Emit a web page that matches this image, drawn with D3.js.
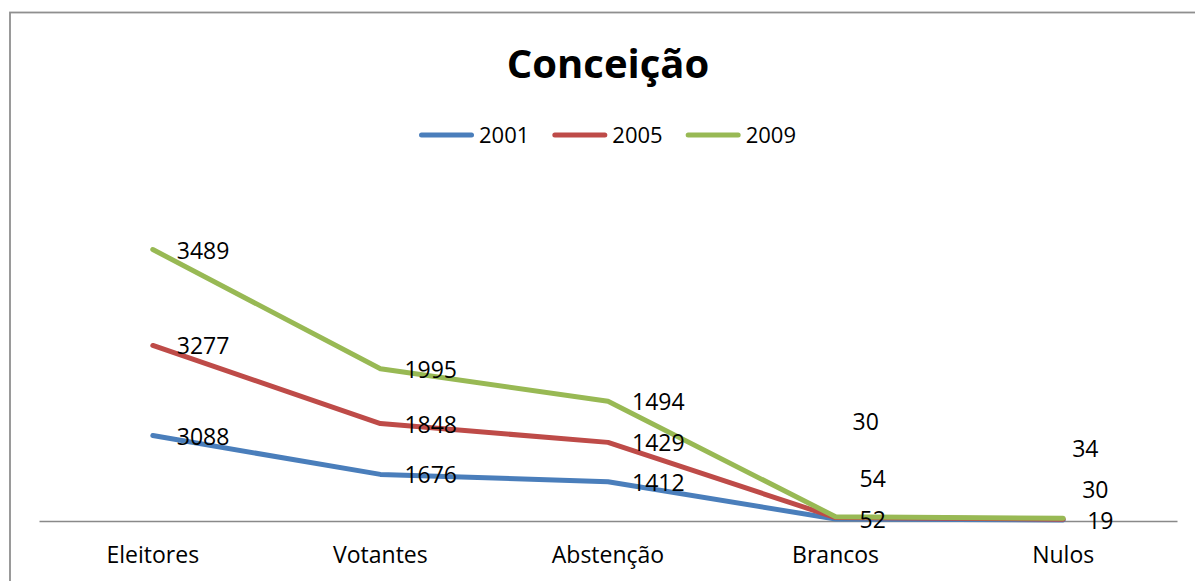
<!DOCTYPE html>
<html>
<head>
<meta charset="utf-8">
<script src="https://cdn.jsdelivr.net/npm/d3@7"></script>
<style>
  body { margin: 0; background: #fff; }
  text { font-family: "Open Sans", "Noto Sans", sans-serif; fill: #000; }
</style>
</head>
<body>
<svg id="chart" width="1195" height="581"></svg>
<script>
// data
var categories = ["Eleitores", "Votantes", "Abstenção", "Brancos", "Nulos"];
var years = ["2001", "2005", "2009"];
var values2001 = [3088, 1676, 1412, 52, 19];
var values2005 = [3277, 1848, 1429, 54, 30];
var values2009 = [3489, 1995, 1494, 30, 34];
var colors = ["#4a7ebb", "#be4b48", "#98b954"];
// manually moved data labels (offset from default spot, px)
var labelDx2001 = [0, 0, 0, 0, 0], labelDy2001 = [0, 0, 0, 0, 0];
var labelDx2005 = [0, 0, 0, 0, -5], labelDy2005 = [0, 0, 0, -40, -30];
var labelDx2009 = [0, 0, 0, -7, -15], labelDy2009 = [0, 0, 0, -96, -70];

var seriesValues = [values2001, values2005, values2009];
var labelDx = [labelDx2001, labelDx2005, labelDx2009];
var labelDy = [labelDy2001, labelDy2005, labelDy2009];

var svg = d3.select("#chart");

// chart border (right/bottom edges are cut off)
svg.append("rect")
  .attr("x", 10).attr("y", 12.5)
  .attr("width", 1300).attr("height", 700)
  .attr("fill", "none")
  .attr("stroke", "#8f8f8f")
  .attr("stroke-width", 1.8);

// table for stacking
var table = categories.map(function(c, i){
  var row = { cat: c };
  years.forEach(function(y, j){ row[y] = seriesValues[j][i]; });
  return row;
});
var stacked = d3.stack().keys(years)(table);

var x = d3.scaleBand().domain(categories).range([39, 1177]);
var y = d3.scaleLinear().domain([0, 12000]).range([520.5, 190.5]);
function cx(c){ return x(c) + x.bandwidth() / 2; }

// title
svg.append("text")
  .attr("x", 608).attr("y", 78)
  .attr("text-anchor", "middle")
  .style("font-size", "40px")
  .style("font-weight", "bold")
  .text("Conceição");

// legend
var legend = svg.append("g").attr("transform", "translate(0,135)");
var lx = 419;
years.forEach(function(yr, j){
  legend.append("line")
    .attr("x1", lx + 2.5).attr("x2", lx + 52.5)
    .attr("y1", 0).attr("y2", 0)
    .attr("stroke", colors[j])
    .attr("stroke-width", 5)
    .attr("stroke-linecap", "round");
  var t = legend.append("text")
    .attr("x", lx + 60).attr("y", 8)
    .style("font-size", "22px")
    .text(yr);
  lx += 60 + t.node().getComputedTextLength() + 23;
});

// x axis
var axis = svg.append("g")
  .attr("transform", "translate(0,521)")
  .call(d3.axisBottom(x).tickSize(0).tickPadding(0).tickFormat(""));
axis.select(".domain").attr("stroke", "#898989").attr("stroke-width", 1.4);
axis.selectAll(".tick").remove();

svg.selectAll(".catLabel")
  .data(categories)
  .enter()
  .append("text")
  .attr("class", "catLabel")
  .attr("x", function(d){ return cx(d); })
  .attr("y", 563)
  .attr("text-anchor", "middle")
  .style("font-size", "23px")
  .text(function(d){ return d; });

// lines
var line = d3.line()
  .x(function(d){ return cx(d.data.cat); })
  .y(function(d){ return y(d[1]); });

svg.selectAll(".series")
  .data(stacked)
  .enter()
  .append("path")
  .attr("class", "series")
  .attr("d", line)
  .attr("fill", "none")
  .attr("stroke", function(d, i){ return colors[i]; })
  .attr("stroke-width", 5)
  .attr("stroke-linejoin", "round")
  .attr("stroke-linecap", "round");

// data labels
stacked.forEach(function(s, j){
  svg.selectAll(".lbl" + j)
    .data(s)
    .enter()
    .append("text")
    .attr("class", "lbl" + j)
    .attr("x", function(d, i){ return cx(d.data.cat) + 24 + labelDx[j][i]; })
    .attr("y", function(d, i){ return y(d[1]) + 9 + labelDy[j][i]; })
    .style("font-size", "23px")
    .text(function(d, i){ return seriesValues[j][i]; });
});
</script>
</body>
</html>
